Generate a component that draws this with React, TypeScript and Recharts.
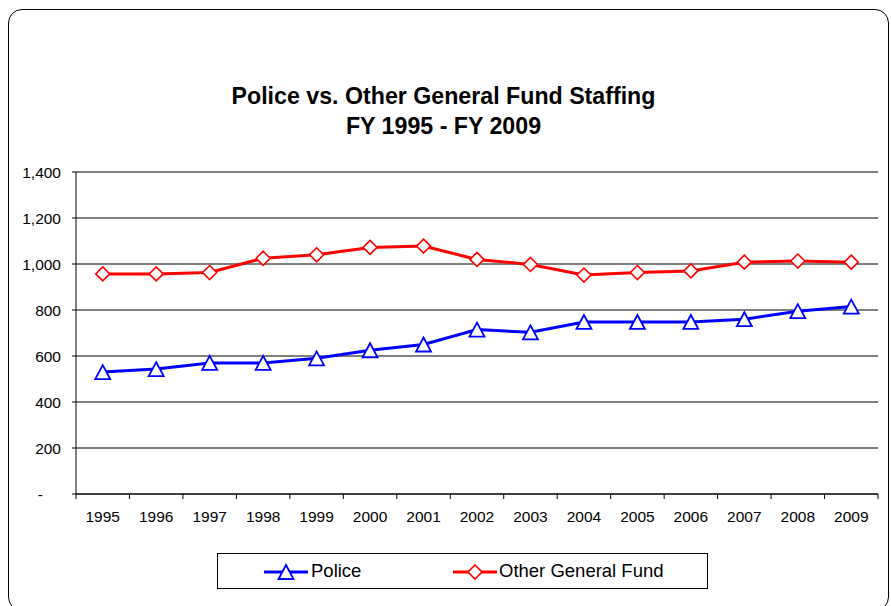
import React from "react";
import {
  LineChart,
  Line,
  XAxis,
  YAxis,
  CartesianGrid,
} from "recharts";

const years = [
  "1995", "1996", "1997", "1998", "1999", "2000", "2001", "2002",
  "2003", "2004", "2005", "2006", "2007", "2008", "2009",
];
const police = [530, 543, 570, 570, 590, 625, 650, 715, 703, 748, 748, 748, 760, 795, 815];
const otherFund = [957, 957, 963, 1025, 1040, 1072, 1078, 1020, 998, 952, 963, 970, 1008, 1013, 1008];
const yTicks = [0, 200, 400, 600, 800, 1000, 1200, 1400];

const data = years.map((year, i) => ({
  year,
  police: police[i],
  other: otherFund[i],
}));

const W = 891;
const H = 606;
const MARGIN = { top: 172, right: 13, bottom: 82, left: 16 };
const Y_AXIS_W = 60;
const X_AXIS_H = 30;
const PLOT_W = W - MARGIN.left - Y_AXIS_W - MARGIN.right;
const BAND = PLOT_W / years.length;
const FONT = "'Liberation Sans', Arial, sans-serif";

const BLUE = "#0000ff";
const RED = "#ff0000";

function Triangle({ cx, cy, stroke }: { cx: number; cy: number; stroke: string }) {
  const h = 7;
  return (
    <polygon
      points={`${cx},${cy - h} ${cx - 7.5},${cy + h} ${cx + 7.5},${cy + h}`}
      fill="#fff"
      stroke={stroke}
      strokeWidth={1.8}
    />
  );
}

function Diamond({ cx, cy, stroke }: { cx: number; cy: number; stroke: string }) {
  return (
    <polygon
      points={`${cx},${cy - 7} ${cx + 7},${cy} ${cx},${cy + 7} ${cx - 7},${cy}`}
      fill="#fff"
      stroke={stroke}
      strokeWidth={1.6}
    />
  );
}

const XTick = (props: any) => {
  const { x, y, payload, index } = props;
  const axisY = y - 10;
  const half = BAND / 2;
  return (
    <g>
      <line x1={x - half} x2={x - half} y1={axisY} y2={axisY + 5} stroke="#000" />
      {index === years.length - 1 && (
        <line x1={x + half} x2={x + half} y1={axisY} y2={axisY + 5} stroke="#000" />
      )}
      <text
        x={x}
        y={axisY + 28}
        textAnchor="middle"
        fill="#000"
        fontSize={15.5}
        fontFamily={FONT}
      >
        {payload.value}
      </text>
    </g>
  );
};

const YTick = (props: any) => {
  const { x, y, payload } = props;
  const v = payload.value as number;
  return (
    <text
      x={v === 0 ? x - 18 : x}
      y={y}
      dy="0.355em"
      textAnchor="end"
      fill="#000"
      fontSize={15.5}
      fontFamily={FONT}
    >
      {v === 0 ? "-" : v.toLocaleString("en-US")}
    </text>
  );
};

export default function App() {
  return (
    <div
      style={{
        position: "fixed",
        left: 0,
        top: 0,
        width: W,
        height: H,
        overflow: "hidden",
        background: "#fff",
        fontFamily: FONT,
      }}
    >
      <div
        style={{
          position: "absolute",
          left: 8,
          top: 9,
          width: 879,
          height: 600,
          border: "1px solid #000",
          borderRadius: 14,
        }}
      />
      <div
        style={{
          position: "absolute",
          left: 0,
          top: 81,
          width: 887,
          textAlign: "center",
          fontWeight: "bold",
          fontSize: 23.2,
          lineHeight: "30px",
          color: "#000",
        }}
      >
        Police vs. Other General Fund Staffing
        <br />
        FY 1995 - FY 2009
      </div>

      <div style={{ position: "absolute", left: 0, top: 0 }}>
        <LineChart width={W} height={H} data={data} margin={MARGIN}>
          <CartesianGrid horizontal vertical={false} stroke="#000" strokeWidth={1} />
          <XAxis
            dataKey="year"
            scale="band"
            height={X_AXIS_H}
            axisLine={{ stroke: "#000" }}
            tickLine={false}
            tickSize={0}
            tickMargin={10}
            interval={0}
            tick={<XTick />}
          />
          <XAxis
            xAxisId="top"
            orientation="top"
            dataKey="year"
            scale="band"
            height={0}
            tick={false}
            tickLine={false}
            axisLine={{ stroke: "#888" }}
          />
          <YAxis
            width={Y_AXIS_W}
            domain={[0, 1400]}
            ticks={yTicks}
            interval={0}
            axisLine={{ stroke: "#000" }}
            tickLine={{ stroke: "#000" }}
            tickSize={4}
            tickMargin={11}
            tick={<YTick />}
          />
          <YAxis
            yAxisId="right"
            orientation="right"
            width={0}
            domain={[0, 1400]}
            tick={false}
            tickLine={false}
            axisLine={{ stroke: "#888" }}
          />
          <Line
            type="linear"
            dataKey="police"
            name="Police"
            stroke={BLUE}
            strokeWidth={3}
            isAnimationActive={false}
            dot={(p: any) => <Triangle key={`t-${p.index}`} cx={p.cx} cy={p.cy} stroke={BLUE} />}
          />
          <Line
            type="linear"
            dataKey="other"
            name="Other General Fund"
            stroke={RED}
            strokeWidth={3}
            isAnimationActive={false}
            dot={(p: any) => <Diamond key={`d-${p.index}`} cx={p.cx} cy={p.cy} stroke={RED} />}
          />
        </LineChart>
      </div>

      <div
        style={{
          position: "absolute",
          left: 217,
          top: 553,
          width: 489,
          height: 34,
          border: "1px solid #000",
          fontSize: 18.5,
          color: "#000",
        }}
      >
        <svg width={50} height={34} style={{ position: "absolute", left: 45, top: 0 }}>
          <line x1={1} x2={45} y1={18} y2={18} stroke={BLUE} strokeWidth={3} />
          <Triangle cx={23} cy={18} stroke={BLUE} />
        </svg>
        <span style={{ position: "absolute", left: 93, top: 6 }}>Police</span>
        <svg width={50} height={34} style={{ position: "absolute", left: 234, top: 0 }}>
          <line x1={1} x2={45} y1={18} y2={18} stroke={RED} strokeWidth={3} />
          <Diamond cx={23} cy={18} stroke={RED} />
        </svg>
        <span style={{ position: "absolute", left: 281, top: 6 }}>Other General Fund</span>
      </div>
    </div>
  );
}
